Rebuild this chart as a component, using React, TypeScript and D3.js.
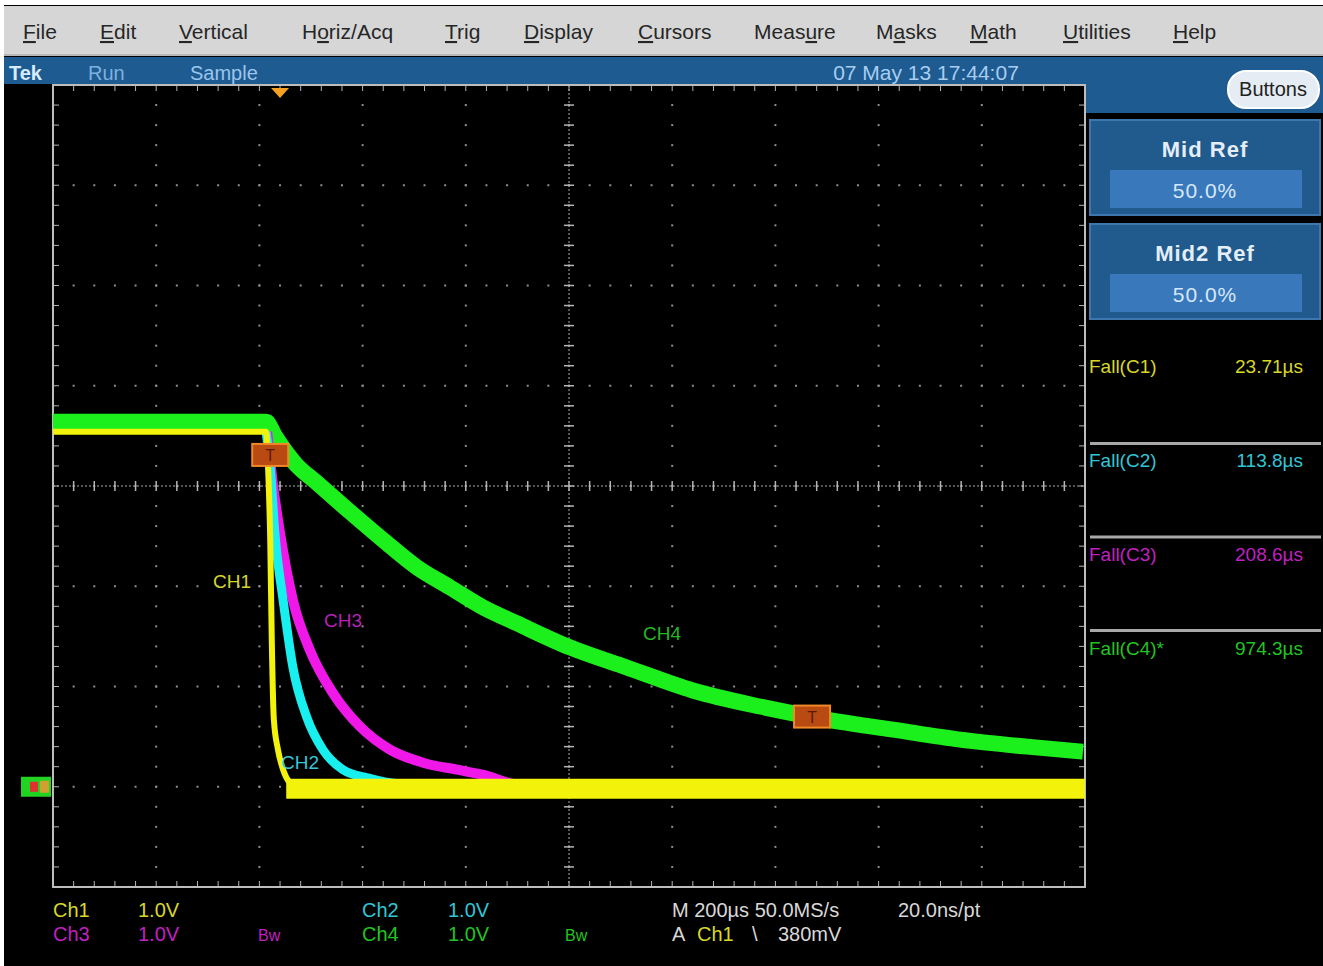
import React from "react";
import * as d3 from "d3";

const W = 1323;
const H = 966;

// screen time in µs (0 = left edge, 200 µs/div), level in V (1 V/div)
const ch1Trace: [number, number][] = [
  [0, 3.54], [413, 3.54], [417, 3.16], [421, 2.46], [424, 1.46], [428, 0.67],
  [436, 0.37], [446, 0.17], [459, 0.04], [479, -0.02], [2000, -0.02],
];
const ch1Floor: [number, number][] = [[452, -0.02], [2000, -0.02]];
const ch2Trace: [number, number][] = [
  [413, 3.54], [421, 3.19], [430, 2.53], [446, 1.86], [465, 1.19],
  [492, 0.69], [523, 0.37], [562, 0.17], [609, 0.09], [672, 0.03], [2000, -0.02],
];
const ch3Trace: [number, number][] = [
  [415, 3.54], [426, 3.03], [440, 2.53], [465, 1.86], [498, 1.36],
  [543, 0.93], [595, 0.6], [653, 0.37], [717, 0.24], [783, 0.17], [833, 0.12],
  [905, 0.02], [2000, -0.02],
];
const ch4Trace: [number, number][] = [
  [0, 3.64], [413, 3.64], [430, 3.5], [470, 3.22], [512, 3.03], [576, 2.74], [640, 2.46],
  [705, 2.19], [769, 1.99], [833, 1.79], [899, 1.63], [1002, 1.39], [1112, 1.19],
  [1240, 0.96], [1370, 0.8], [1500, 0.67], [1628, 0.57], [1758, 0.47],
  [1888, 0.4], [1996, 0.35],
];
// measurement crossing markers [t, v]
const crossMarks: [number, number][] = [[421, 3.31], [1471, 0.7]];
const triggerTime = 440;

const menuLabels = ["File", "Edit", "Vertical", "Horiz/Acq", "Trig", "Display", "Cursors", "Measure", "Masks", "Math", "Utilities", "Help"];
const menuUnderline = [0, 0, 0, 1, 0, 0, 0, 4, 1, 0, 0, 0];
const menuX = [23, 100, 179, 302, 445, 524, 638, 754, 876, 970, 1063, 1173];

const measureLabels = ["Fall(C1)", "Fall(C2)", "Fall(C3)", "Fall(C4)*"];
const measureValues = ["23.71µs", "113.8µs", "208.6µs", "974.3µs"];

const chColors = ["#f2f20a", "#18f0f0", "#f018e8", "#1cf01c"];
const chText = ["#d8d828", "#30c6d6", "#c020c0", "#22c422"];

const font = "'Liberation Sans', Arial, sans-serif";

const App = () => {
  const x = d3.scaleLinear().domain([0, 2000]).range([53, 1085]);
  const y = d3.scaleLinear().domain([-1, 7]).range([887, 85]);
  const line = d3
    .line<[number, number]>()
    .x(d => x(d[0]))
    .y(d => y(d[1]))
    .curve(d3.curveMonotoneX);

  const xMajor = d3.range(0, 11).map(i => i * 200);
  const xMinor = d3.range(0, 51).map(i => i * 40);
  const yMajor = d3.range(0, 9).map(i => -1 + i);
  const yMinor = d3.range(0, 41).map(i => -1 + i * 0.2);
  const gridCol = "#8e8e8e";

  const [x0, x1] = x.range();
  const [y0, y1] = [y(7), y(-1)];

  return (
    <svg width={W} height={H} style={{ position: "absolute", left: 0, top: 0, background: "#fff" }} fontFamily={font}>
      <rect x={4} y={5} width={W - 4} height={H - 5} fill="#000" />
      {/* menu bar */}
      <rect x={4} y={6} width={W - 4} height={50} fill="#d6d6d6" />
      <line x1={4} x2={W} y1={55} y2={55} stroke="#9a9a9a" />
      {menuLabels.map((m, i) => (
        <text key={m} x={menuX[i]} y={39} fontSize={21} fill="#262626">
          {m.split("").map((c, j) => (
            <tspan key={j} textDecoration={j === menuUnderline[i] ? "underline" : undefined}>{c}</tspan>
          ))}
        </text>
      ))}
      {/* status bar */}
      <rect x={4} y={57} width={W - 4} height={27} fill="#1e5b90" />
      <rect x={1086} y={57} width={W - 1086} height={56} fill="#1e5b90" />
      <text x={9} y={80} fontSize={20} fontWeight="bold" fill="#d8ecff">Tek</text>
      <text x={88} y={80} fontSize={20} fill="#7fb0e0">Run</text>
      <text x={190} y={80} fontSize={20} fill="#9cc4ec">Sample</text>
      <text x={926} y={80} fontSize={21} fill="#a8cdf0" textAnchor="middle">07 May 13 17:44:07</text>
      <rect x={1228} y={71} width={91} height={37} rx={18} fill="#e6ecf3" stroke="#ffffff" strokeWidth={2} />
      <text x={1273} y={96} fontSize={20} fill="#222" textAnchor="middle">Buttons</text>

      {/* right side panels */}
      {[0, 1].map(i => (
        <g key={i} transform={`translate(0,${i * 104})`}>
          <rect x={1090} y={120} width={230} height={95} fill="#215a8c" stroke="#3c78ae" strokeWidth={2} />
          <text x={1205} y={157} fontSize={22} fontWeight="bold" fill="#e4eef8" textAnchor="middle" letterSpacing={1}>
            {i === 0 ? "Mid Ref" : "Mid2 Ref"}
          </text>
          <rect x={1110} y={170} width={192} height={38} fill="#3878bb" />
          <text x={1205} y={198} fontSize={21} fill="#d6e8fa" textAnchor="middle" letterSpacing={1}>50.0%</text>
        </g>
      ))}
      {measureLabels.map((m, i) => (
        <g key={m}>
          <text x={1089} y={373 + i * 94} fontSize={19} fill={chText[i]}>{m}</text>
          <text x={1303} y={373 + i * 94} fontSize={19} fill={chText[i]} textAnchor="end">{measureValues[i]}</text>
          {i > 0 && <line x1={1090} x2={1321} y1={350 + i * 93.5} y2={350 + i * 93.5} stroke="#a8a8a8" strokeWidth={3} />}
        </g>
      ))}

      {/* graticule */}
      <g>
        {xMajor.slice(1, -1).map(t =>
          yMinor.map(v => <rect key={`v${t}_${v}`} x={x(t) - 1} y={y(v) - 1} width={2} height={2} fill={gridCol} />)
        )}
        {yMajor.slice(1, -1).map(v =>
          xMinor.map(t => <rect key={`h${v}_${t}`} x={x(t) - 1} y={y(v) - 1} width={2} height={2} fill={gridCol} />)
        )}
        {/* center cross */}
        <line x1={x0} x2={x1} y1={y(3)} y2={y(3)} stroke="#aaa" strokeWidth={1} strokeDasharray="2,2" />
        <line x1={x(1000)} x2={x(1000)} y1={y0} y2={y1} stroke="#aaa" strokeWidth={1} strokeDasharray="2,2" />
        {xMinor.map(t => (
          <line key={`cx${t}`} x1={x(t)} x2={x(t)} y1={y(3) - 5} y2={y(3) + 5} stroke="#b4b4b4" strokeWidth={1.5} />
        ))}
        {yMinor.map(v => (
          <line key={`cy${v}`} x1={x(1000) - 5} x2={x(1000) + 5} y1={y(v)} y2={y(v)} stroke="#b4b4b4" strokeWidth={1.5} />
        ))}
        {/* border ticks */}
        {xMinor.map(t => (
          <g key={`bt${t}`}>
            <line x1={x(t)} x2={x(t)} y1={y0} y2={y0 + 6} stroke="#b4b4b4" />
            <line x1={x(t)} x2={x(t)} y1={y1} y2={y1 - 6} stroke="#b4b4b4" />
          </g>
        ))}
        {yMinor.map(v => (
          <g key={`bl${v}`}>
            <line x1={x0} x2={x0 + 6} y1={y(v)} y2={y(v)} stroke="#b4b4b4" />
            <line x1={x1} x2={x1 - 6} y1={y(v)} y2={y(v)} stroke="#b4b4b4" />
          </g>
        ))}
        <rect x={x0} y={y0} width={x1 - x0} height={y1 - y0} fill="none" stroke="#bdbdbd" strokeWidth={2} />
      </g>

      {/* waveforms */}
      <path d={line(ch4Trace) || ""} fill="none" stroke={chColors[3]} strokeWidth={16} />
      <path d={line(ch3Trace) || ""} fill="none" stroke={chColors[2]} strokeWidth={10} />
      <path d={line(ch2Trace) || ""} fill="none" stroke={chColors[1]} strokeWidth={9} />
      <path d={line(ch1Trace) || ""} fill="none" stroke={chColors[0]} strokeWidth={6} />
      <path d={line(ch1Floor) || ""} fill="none" stroke={chColors[0]} strokeWidth={20} />

      {/* trace labels */}
      <text x={232} y={588} fontSize={19} fill="#d6d62a" textAnchor="middle">CH1</text>
      <text x={300} y={769} fontSize={19} fill="#34c8d8" textAnchor="middle">CH2</text>
      <text x={343} y={627} fontSize={19} fill="#b423b4" textAnchor="middle">CH3</text>
      <text x={662} y={640} fontSize={19} fill="#26b626" textAnchor="middle">CH4</text>

      {/* crossing markers */}
      {crossMarks.map(([t, v], i) => (
        <g key={i}>
          <rect x={x(t) - 18} y={y(v) - 11} width={36} height={22} fill="#b84a12" stroke="#f08a28" strokeWidth={2} />
          <text x={x(t)} y={y(v) + 6} fontSize={16} fill="#5a1a00" textAnchor="middle">T</text>
        </g>
      ))}
      {/* trigger position */}
      <path d={`M${x(triggerTime) - 9},${y0 + 3}L${x(triggerTime) + 9},${y0 + 3}L${x(triggerTime)},${y0 + 13}Z`} fill="#f5a020" />
      {/* ground markers */}
      <rect x={21} y={y(0) - 10} width={30} height={20} fill="#22d422" />
      <rect x={30} y={y(0) - 5} width={8} height={10} fill="#e03030" />
      <rect x={40} y={y(0) - 6} width={9} height={12} fill="#d0a030" />

      {/* bottom readouts */}
      <g fontSize={20}>
        <text x={53} y={917} fill={chText[0]}>Ch1</text>
        <text x={138} y={917} fill={chText[0]}>1.0V</text>
        <text x={53} y={941} fill={chText[2]}>Ch3</text>
        <text x={138} y={941} fill={chText[2]}>1.0V</text>
        <text x={258} y={941} fill={chText[2]} fontSize={16}>Bw</text>
        <text x={362} y={917} fill={chText[1]}>Ch2</text>
        <text x={448} y={917} fill={chText[1]}>1.0V</text>
        <text x={362} y={941} fill={chText[3]}>Ch4</text>
        <text x={448} y={941} fill={chText[3]}>1.0V</text>
        <text x={565} y={941} fill={chText[3]} fontSize={16}>Bw</text>
        <text x={672} y={917} fill="#d8d8d8">M 200µs 50.0MS/s</text>
        <text x={898} y={917} fill="#d8d8d8">20.0ns/pt</text>
        <text x={672} y={941} fill="#d8d8d8">A</text>
        <text x={697} y={941} fill={chText[0]}>Ch1</text>
        <text x={752} y={941} fill="#d8d8d8">\</text>
        <text x={778} y={941} fill="#d8d8d8">380mV</text>
      </g>
    </svg>
  );
};

export default App;
